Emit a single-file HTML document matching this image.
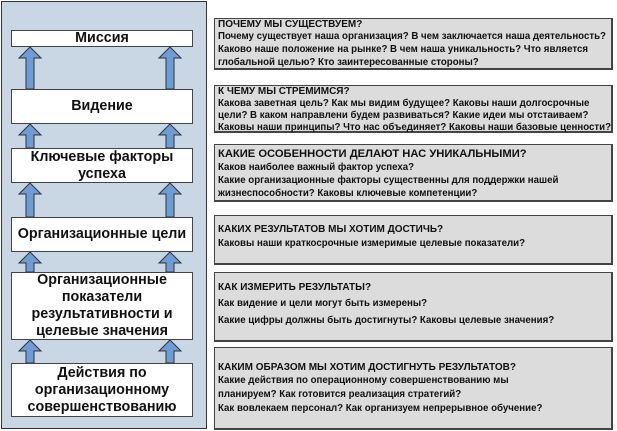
<!DOCTYPE html>
<html><head><meta charset="utf-8"><style>
*{margin:0;padding:0;box-sizing:border-box}
body{width:617px;height:431px;background:#fff;position:relative;overflow:hidden;font-family:"Liberation Sans","DejaVu Sans",sans-serif}
#panel{position:absolute;left:1px;top:1px;width:206px;height:428px;background:#c9d6e4;border:1px solid #333}
.lb{position:absolute;left:11px;width:182px;background:#fff;border:1px solid #444;display:flex;align-items:center;justify-content:center;text-align:center;font-weight:bold;font-size:14.3px;line-height:17px;color:#111;white-space:nowrap}
.rb{position:absolute;left:214px;width:399px;background:#dcdcdc;border:1px solid #444;border-right-width:2px;border-bottom-width:2px;padding:0 3px;font-size:9.7px;font-weight:bold;line-height:12.8px;color:#111;white-space:nowrap}
.rb b{font-size:10px;line-height:12px;display:block}
svg{position:absolute;left:0;top:0}
</style></head><body>
<div id="panel"></div>
<svg width="210" height="431">
<g fill="#6d9cd6" stroke="#333" stroke-width="1">
<path d="M26,89 L26,58 L19,58 L30,47 L41,58 L34,58 L34,89Z"/>
<path d="M166,89 L166,58 L159,58 L170,47 L181,58 L174,58 L174,89Z"/>
<path d="M26,148 L26,135 L19,135 L30,124 L41,135 L34,135 L34,148Z"/>
<path d="M166,148 L166,135 L159,135 L170,124 L181,135 L174,135 L174,148Z"/>
<path d="M26,217 L26,194 L19,194 L30,183 L41,194 L34,194 L34,217Z"/>
<path d="M166,217 L166,194 L159,194 L170,183 L181,194 L174,194 L174,217Z"/>
<path d="M26,272 L26,263 L19,263 L30,252 L41,263 L34,263 L34,272Z"/>
<path d="M166,272 L166,263 L159,263 L170,252 L181,263 L174,263 L174,272Z"/>
<path d="M26,363 L26,351 L19,351 L30,340 L41,351 L34,351 L34,363Z"/>
<path d="M166,363 L166,351 L159,351 L170,340 L181,351 L174,351 L174,363Z"/>
</g></svg>
<div class="lb" style="top:30px;height:17px">Миссия</div>
<div class="lb" style="top:89px;height:35px">Видение</div>
<div class="lb" style="top:148px;height:35px">Ключевые факторы<br>успеха</div>
<div class="lb" style="top:217px;height:35px">Организационные цели</div>
<div class="lb" style="top:272px;height:68px">Организационные<br>показатели<br>результативности и<br>целевые значения</div>
<div class="lb" style="top:363px;height:54px">Действия по<br>организационному<br>совершенствованию</div>

<div class="rb" style="top:18px;height:52px;padding-top:0"><b>ПОЧЕМУ МЫ СУЩЕСТВУЕМ?</b>Почему существует наша организация? В чем заключается наша деятельность?<br>Каково наше положение на рынке? В чем наша уникальность? Что является<br>глобальной целью? Кто заинтересованные стороны?</div>
<div class="rb" style="top:85px;height:48px;padding-top:0;line-height:12px"><b>К ЧЕМУ МЫ СТРЕМИМСЯ?</b>Какова заветная цель? Как мы видим будущее? Каковы наши долгосрочные<br>цели? В каком направлени будем развиваться? Какие идеи мы отстаиваем?<br>Каковы наши принципы? Что нас объединяет? Каковы наши базовые ценности?</div>
<div class="rb" style="top:144px;height:58px;padding-top:2px;line-height:13px"><b style="font-size:11.2px;line-height:14px">КАКИЕ ОСОБЕННОСТИ ДЕЛАЮТ НАС УНИКАЛЬНЫМИ?</b>Каков наиболее важный фактор успеха?<br>Какие организационные факторы существенны для поддержки нашей<br>жизнеспособности? Каковы ключевые компетенции?</div>
<div class="rb" style="top:215px;height:50px;padding-top:8px;line-height:15px"><b>КАКИХ РЕЗУЛЬТАТОВ МЫ ХОТИМ ДОСТИЧЬ?</b>Каковы наши краткосрочные измеримые целевые показатели?</div>
<div class="rb" style="top:272px;height:70px;padding-top:8px;line-height:17px"><b style="line-height:14px">КАК ИЗМЕРИТЬ РЕЗУЛЬТАТЫ?</b>Как видение и цели могут быть измерены?<br>Какие цифры должны быть достигнуты? Каковы целевые значения?</div>
<div class="rb" style="top:347px;height:83px;padding-top:13px;line-height:13.8px"><b style="line-height:13px">КАКИМ ОБРАЗОМ МЫ ХОТИМ ДОСТИГНУТЬ РЕЗУЛЬТАТОВ?</b>Какие действия по операционному совершенствованию мы<br>планируем? Как готовится реализация стратегий?<br>Как вовлекаем персонал? Как организуем непрерывное обучение?</div>
</body></html>
